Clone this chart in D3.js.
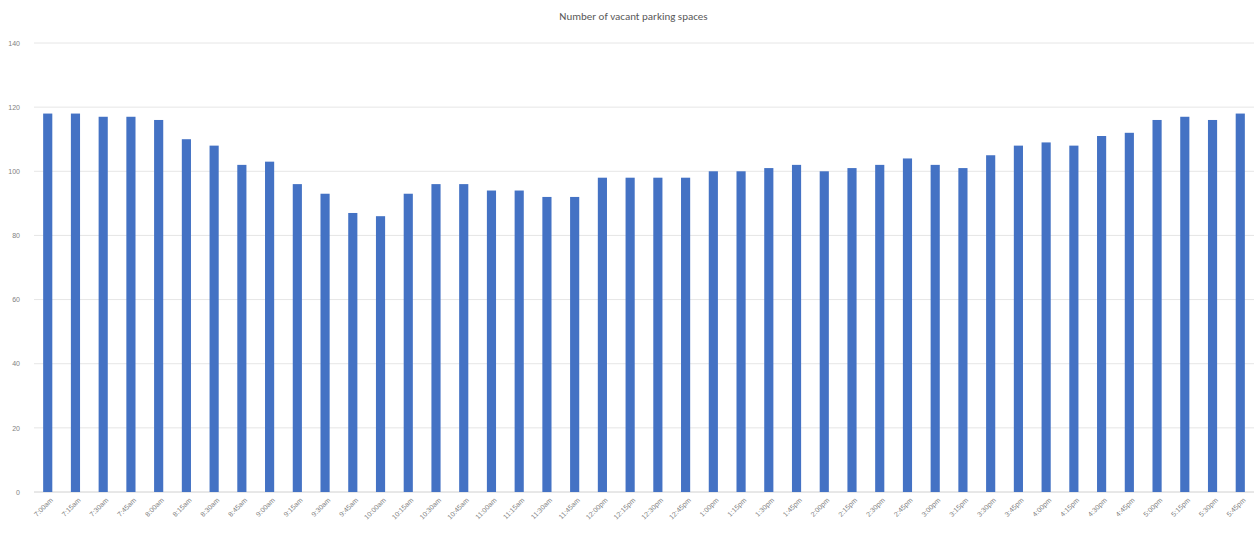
<!DOCTYPE html>
<html>
<head>
<meta charset="utf-8">
<script src="https://cdn.jsdelivr.net/npm/d3@7"></script>
<style>
  body { margin: 0; background: #fff; }
  svg { display: block; font-family: Calibri, "Liberation Sans", "DejaVu Sans", sans-serif; }
</style>
</head>
<body>
<div id="chart"></div>
<script>
// time slots, every 15 minutes
var times = ["7:00am","7:15am","7:30am","7:45am","8:00am","8:15am","8:30am","8:45am",
  "9:00am","9:15am","9:30am","9:45am","10:00am","10:15am","10:30am","10:45am",
  "11:00am","11:15am","11:30am","11:45am","12:00pm","12:15pm","12:30pm","12:45pm",
  "1:00pm","1:15pm","1:30pm","1:45pm","2:00pm","2:15pm","2:30pm","2:45pm",
  "3:00pm","3:15pm","3:30pm","3:45pm","4:00pm","4:15pm","4:30pm","4:45pm",
  "5:00pm","5:15pm","5:30pm","5:45pm"];

var vacant = [118,118,117,117,116,110,108,102,103,96,93,87,86,93,96,96,94,94,92,92,
  98,98,98,98,100,100,101,102,100,101,102,104,102,101,105,108,109,108,111,112,
  116,117,116,118];

var yTicks = [0,20,40,60,80,100,120,140];

var W = 1259, H = 533;
var margin = {top: 43, right: 5, bottom: 41, left: 34};
var width = W - margin.left - margin.right,
    height = H - margin.top - margin.bottom;

var svg = d3.select("#chart").append("svg")
    .attr("width", W)
    .attr("height", H);

svg.append("text")
    .attr("x", W / 2 + 4)
    .attr("y", 20)
    .attr("text-anchor", "middle")
    .attr("font-size", 11)
    .attr("fill", "#595959")
    .text("Number of vacant parking spaces");

var g = svg.append("g")
    .attr("transform", "translate(" + margin.left + "," + margin.top + ")");

var x = d3.scaleBand()
    .domain(times)
    .range([0, width])
    .paddingInner(0.67)
    .paddingOuter(0.33);

var y = d3.scaleLinear()
    .domain([0, 140])
    .range([height, 0]);

// gridlines
g.append("g")
    .selectAll("line")
    .data(yTicks)
    .enter().append("line")
    .attr("x1", 0)
    .attr("x2", width)
    .attr("y1", function (d) { return y(d); })
    .attr("y2", function (d) { return y(d); })
    .attr("stroke", function (d) { return d === 0 ? "#d0d0d0" : "#e6e6e6"; })
    .attr("stroke-width", 1);

var yAxis = g.append("g")
    .call(d3.axisLeft(y).tickValues(yTicks).tickSize(0).tickPadding(14));
yAxis.select(".domain").remove();
yAxis.selectAll("text")
    .attr("font-size", 7)
    .attr("fill", "#7f7f7f");

g.selectAll("rect.bar")
    .data(vacant)
    .enter().append("rect")
    .attr("class", "bar")
    .attr("x", function (d, i) { return x(times[i]); })
    .attr("y", function (d) { return y(d); })
    .attr("width", x.bandwidth())
    .attr("height", function (d) { return height - y(d); })
    .attr("fill", "#4472c4");

var xAxis = g.append("g")
    .attr("transform", "translate(0," + height + ")")
    .call(d3.axisBottom(x).tickSize(0));
xAxis.select(".domain").remove();
xAxis.selectAll("text")
    .attr("font-size", 7)
    .attr("fill", "#7f7f7f")
    .attr("text-anchor", "end")
    .attr("x", 0)
    .attr("y", 0)
    .attr("dx", 0)
    .attr("dy", "0.35em")
    .attr("transform", "translate(4,7) rotate(-45)");
</script>
</body>
</html>
